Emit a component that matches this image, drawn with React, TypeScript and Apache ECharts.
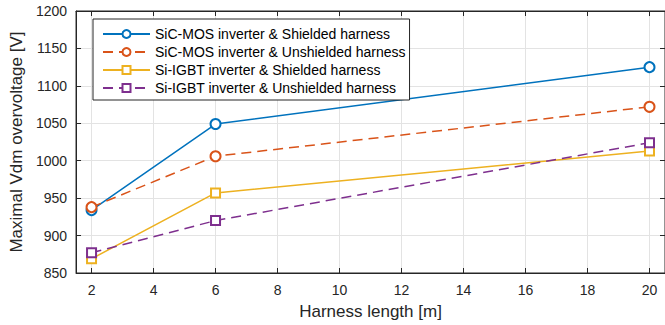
import React, { useEffect, useRef } from "react";
import * as echarts from "echarts";

const lengths = [2, 6, 20];
const xTicks = [2, 4, 6, 8, 10, 12, 14, 16, 18, 20];
const sicShielded = [934, 1049, 1125];
const sicUnshielded = [938, 1006, 1072];
const siShielded = [869, 957, 1013];
const siUnshielded = [877, 920, 1024];
const seriesNames = [
  "SiC-MOS inverter & Shielded harness",
  "SiC-MOS inverter & Unshielded harness",
  "Si-IGBT inverter & Shielded harness",
  "Si-IGBT inverter & Unshielded harness",
];
const colors = ["#0072BD", "#D95319", "#EDB120", "#7E2F8E"];
const FONT = "'Liberation Sans', Arial, Helvetica, sans-serif";
const AX = "#262626";

export default function App() {
  const ref = useRef<HTMLDivElement>(null);
  useEffect(() => {
    if (!ref.current) return;
    const chart = echarts.init(ref.current, undefined, { renderer: "svg" });
    const datas = [sicShielded, sicUnshielded, siShielded, siUnshielded];
    const symbols = ["emptyCircle", "emptyCircle", "emptyRect", "emptyRect"];
    const dashed = [false, true, false, true];
    const mk = (i: number) => ({
      name: seriesNames[i],
      type: "line",
      data: lengths.map((x, k) => [x, datas[i][k]]),
      symbol: symbols[i],
      symbolSize: i < 2 ? 10 : 9,
      showSymbol: true,
      lineStyle: { color: colors[i], width: 1.5, type: dashed[i] ? [10, 6] : "solid" },
      itemStyle: { color: colors[i], borderColor: colors[i], borderWidth: 1.4 },
      color: colors[i],
      z: 3,
    });
    const hiddenAxis = {
      axisLine: { show: true, onZero: false, lineStyle: { color: AX, width: 1 } },
      axisLabel: { show: false },
      splitLine: { show: false },
    };
    chart.setOption({
      animation: false,
      backgroundColor: "#fff",
      grid: {
        left: 72,
        top: 11,
        width: 595,
        height: 262,
        containLabel: false,
        show: true,
        borderColor: AX,
        borderWidth: 1,
        backgroundColor: "transparent",
      },
      legend: {
        orient: "vertical",
        left: 93,
        top: 19,
        padding: [8, 4, 5, 9],
        itemWidth: 47,
        itemHeight: 10,
        itemGap: 4,
        borderColor: AX,
        borderWidth: 1,
        backgroundColor: "#fff",
        textStyle: { fontFamily: FONT, fontSize: 14, color: "#000" },
        data: seriesNames,
        z: 10,
      },
      xAxis: [
        {
          type: "value",
          gridIndex: 0,
          min: 1.5,
          max: 20.5,
          name: "Harness length [m]",
          nameLocation: "middle",
          nameGap: 30,
          nameTextStyle: { fontFamily: FONT, fontSize: 17, color: AX },
          axisLine: { show: true, onZero: false, lineStyle: { color: AX, width: 1 } },
          axisTick: { show: true, inside: true, length: 5, customValues: xTicks, lineStyle: { color: AX } },
          axisLabel: { customValues: xTicks, fontFamily: FONT, fontSize: 14, color: AX, margin: 10 },
          splitLine: { show: true, lineStyle: { color: "#e3e3e3", width: 1 } },
        },
        {
          type: "value",
          gridIndex: 0,
          position: "top",
          min: 1.5,
          max: 20.5,
          ...hiddenAxis,
          axisTick: { show: true, inside: true, length: 5, customValues: xTicks, lineStyle: { color: AX } },
        },
      ],
      yAxis: [
        {
          type: "value",
          gridIndex: 0,
          min: 850,
          max: 1200,
          interval: 50,
          name: "Maximal Vdm overvoltage [V]",
          nameLocation: "middle",
          nameGap: 43,
          nameTextStyle: { fontFamily: FONT, fontSize: 17, color: AX },
          axisLine: { show: true, onZero: false, lineStyle: { color: AX, width: 1 } },
          axisTick: { show: true, inside: true, length: 5, lineStyle: { color: AX } },
          axisLabel: { fontFamily: FONT, fontSize: 14, color: AX, margin: 9, formatter: (v: number) => String(v) },
          splitLine: { show: true, lineStyle: { color: "#e3e3e3", width: 1 } },
        },
        {
          type: "value",
          gridIndex: 0,
          position: "right",
          min: 850,
          max: 1200,
          interval: 50,
          ...hiddenAxis,
          axisTick: { show: true, inside: true, length: 5, lineStyle: { color: AX } },
        },
      ],
      series: [0, 1, 2, 3].map(mk),
    });
    return () => chart.dispose();
  }, []);
  return (
    <div
      ref={ref}
      style={{ position: "absolute", left: 0, top: 0, width: 665, height: 325, background: "#fff" }}
    />
  );
}
